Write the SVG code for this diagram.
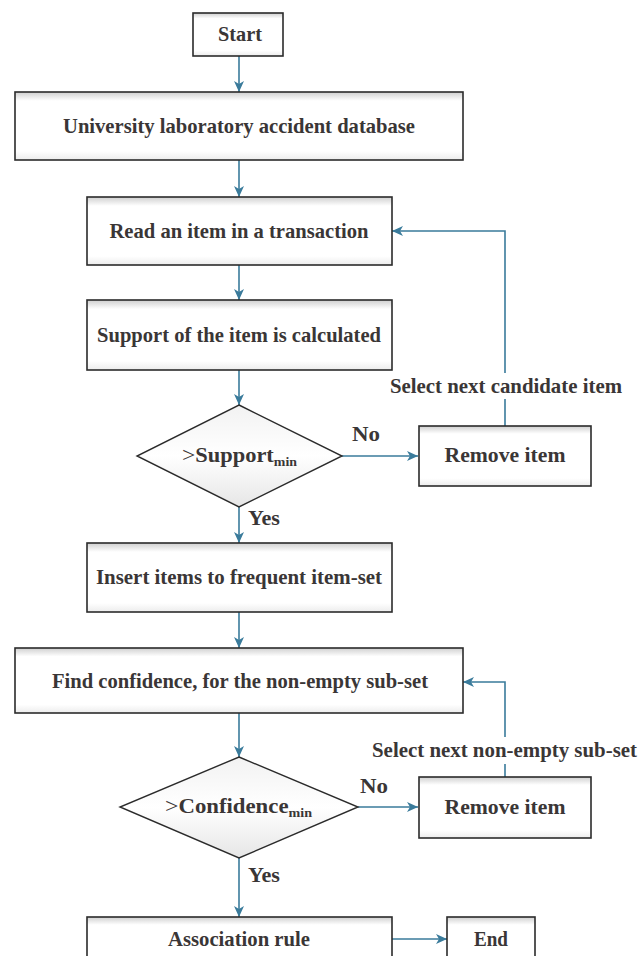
<svg xmlns="http://www.w3.org/2000/svg" width="638" height="956" viewBox="0 0 638 956">
<defs>
<linearGradient id="boxg" x1="0" y1="0" x2="0" y2="1">
<stop offset="0" stop-color="#cfcfcf"/>
<stop offset="0.13" stop-color="#ffffff"/>
<stop offset="0.87" stop-color="#ffffff"/>
<stop offset="1" stop-color="#ececec"/>
</linearGradient>
<linearGradient id="diag" x1="0" y1="0" x2="0" y2="1">
<stop offset="0" stop-color="#f2f2f2"/>
<stop offset="0.5" stop-color="#ffffff"/>
<stop offset="1" stop-color="#e6e6e6"/>
</linearGradient>
<marker id="arr" markerUnits="userSpaceOnUse" markerWidth="12" markerHeight="12" viewBox="0 0 12 12" refX="11" refY="6" orient="auto">
<path d="M0,1 L11,6 L0,11 L3,6 Z" fill="#3a7b9b"/>
</marker>
</defs>
<style>
.box{fill:url(#boxg);stroke:#2b2b2b;stroke-width:1.6}
.dia{fill:url(#diag);stroke:#2b2b2b;stroke-width:1.4}
.t{font-family:"Liberation Serif","Times New Roman",serif;font-weight:bold;font-size:21px;fill:#3a3636;text-anchor:middle}
.lbl{font-family:"Liberation Serif","Times New Roman",serif;font-weight:bold;font-size:21px;fill:#3a3636}
.sub{font-size:13px}
.gt{font-weight:normal;font-size:22px}
.c{fill:none;stroke:#3a7b9b;stroke-width:1.6}
</style>
<rect width="638" height="956" fill="#ffffff"/>
<g id="connectors">
<line class="c" x1="239" y1="56" x2="239" y2="92" marker-end="url(#arr)"/>
<line class="c" x1="239" y1="160" x2="239" y2="197" marker-end="url(#arr)"/>
<line class="c" x1="239" y1="265" x2="239" y2="300" marker-end="url(#arr)"/>
<line class="c" x1="239" y1="370" x2="239" y2="405" marker-end="url(#arr)"/>
<line class="c" x1="342" y1="456" x2="418" y2="456" marker-end="url(#arr)"/>
<polyline class="c" points="505,426 505,231 392,231" marker-end="url(#arr)"/>
<line class="c" x1="239" y1="507" x2="239" y2="543" marker-end="url(#arr)"/>
<line class="c" x1="239" y1="612" x2="239" y2="648" marker-end="url(#arr)"/>
<line class="c" x1="239" y1="713" x2="239" y2="757" marker-end="url(#arr)"/>
<line class="c" x1="358" y1="807" x2="418" y2="807" marker-end="url(#arr)"/>
<polyline class="c" points="505,777 505,682 463,682" marker-end="url(#arr)"/>
<line class="c" x1="239" y1="858" x2="239" y2="917" marker-end="url(#arr)"/>
<line class="c" x1="392" y1="939" x2="447" y2="939" marker-end="url(#arr)"/>
<rect x="386" y="373" width="240" height="26" fill="#ffffff"/>
<text class="lbl" x="390" y="393" textLength="232" lengthAdjust="spacingAndGlyphs">Select next candidate item</text>
<rect x="369" y="737" width="269" height="27" fill="#ffffff"/>
<text class="lbl" x="372" y="757" textLength="265" lengthAdjust="spacingAndGlyphs">Select next non-empty sub-set</text>
<text class="lbl" x="352" y="441" textLength="28" lengthAdjust="spacingAndGlyphs">No</text>
<text class="lbl" x="248" y="525" textLength="32" lengthAdjust="spacingAndGlyphs">Yes</text>
<text class="lbl" x="360" y="793" textLength="28" lengthAdjust="spacingAndGlyphs">No</text>
<text class="lbl" x="248" y="882" textLength="32" lengthAdjust="spacingAndGlyphs">Yes</text>
</g>
<g id="start">
<rect class="box" x="193" y="13" width="90" height="43"/>
<text class="t" x="240" y="41" textLength="44" lengthAdjust="spacingAndGlyphs">Start</text>
</g>
<g id="database">
<rect class="box" x="15" y="92" width="448" height="68"/>
<text class="t" x="239" y="133" textLength="352" lengthAdjust="spacingAndGlyphs">University laboratory accident database</text>
</g>
<g id="read">
<rect class="box" x="87" y="197" width="305" height="68"/>
<text class="t" x="239" y="238" textLength="259" lengthAdjust="spacingAndGlyphs">Read an item in a transaction</text>
</g>
<g id="support">
<rect class="box" x="87" y="300" width="305" height="70"/>
<text class="t" x="239" y="342" textLength="284" lengthAdjust="spacingAndGlyphs">Support of the item is calculated</text>
</g>
<g id="decision1">
<polygon class="dia" points="239,405 342,456 239,507 137,456"/>
<text class="lbl" x="182" y="462" textLength="115" lengthAdjust="spacingAndGlyphs"><tspan class="gt">&gt;</tspan><tspan>Support</tspan><tspan class="sub" dy="4">min</tspan></text>
</g>
<g id="remove1">
<rect class="box" x="419" y="426" width="172" height="60"/>
<text class="t" x="505" y="462" textLength="121" lengthAdjust="spacingAndGlyphs">Remove item</text>
</g>
<g id="insert">
<rect class="box" x="87" y="543" width="305" height="69"/>
<text class="t" x="239" y="584" textLength="286" lengthAdjust="spacingAndGlyphs">Insert items to frequent item-set</text>
</g>
<g id="confidence">
<rect class="box" x="15" y="648" width="448" height="65"/>
<text class="t" x="240" y="688" textLength="376" lengthAdjust="spacingAndGlyphs">Find confidence, for the non-empty sub-set</text>
</g>
<g id="decision2">
<polygon class="dia" points="239,757 358,807 239,858 120,807"/>
<text class="lbl" x="165" y="813" textLength="147" lengthAdjust="spacingAndGlyphs"><tspan class="gt">&gt;</tspan><tspan>Confidence</tspan><tspan class="sub" dy="4">min</tspan></text>
</g>
<g id="remove2">
<rect class="box" x="419" y="777" width="172" height="61"/>
<text class="t" x="505" y="814" textLength="121" lengthAdjust="spacingAndGlyphs">Remove item</text>
</g>
<g id="association">
<rect class="box" x="87" y="917" width="305" height="60"/>
<text class="t" x="239" y="946" textLength="142" lengthAdjust="spacingAndGlyphs">Association rule</text>
</g>
<g id="end">
<rect class="box" x="447" y="917" width="88" height="60"/>
<text class="t" x="491" y="946" textLength="34" lengthAdjust="spacingAndGlyphs">End</text>
</g>
</svg>
